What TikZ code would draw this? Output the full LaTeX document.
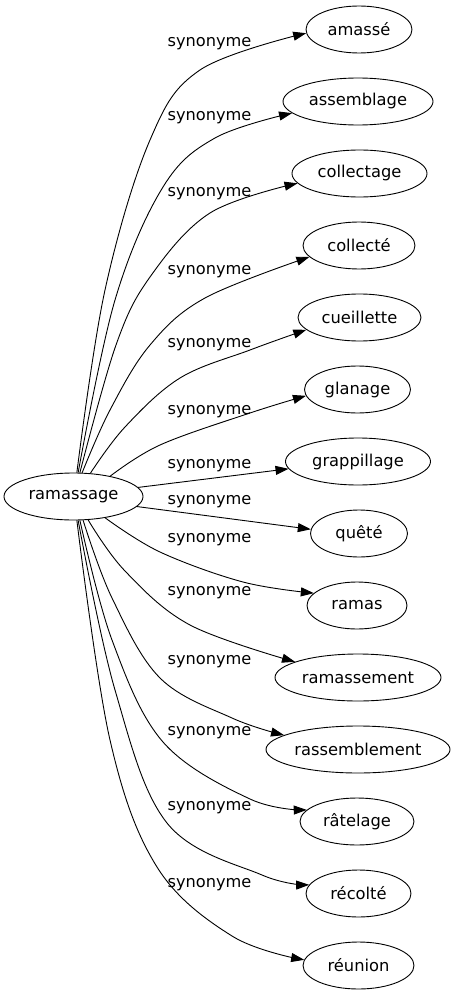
\documentclass[tikz,border=0pt]{standalone}
\usepackage{fontspec}
\setmainfont{DejaVu Sans}
\usetikzlibrary{shapes.geometric,arrows.meta}
\begin{document}
\begin{tikzpicture}[x=1pt,y=-1pt,
  word/.style={ellipse,draw,line width=0.9pt,minimum height=47pt,inner sep=0pt,font=\fontsize{16.3}{19}\selectfont},
  lab/.style={inner sep=0pt,font=\fontsize{16.2}{19}\selectfont},
  synarrow/.style={line width=0.9pt,-{Triangle[length=13pt,width=9pt]}},
  curvy/.style={smooth,tension=0.6}]
\useasboundingbox (0,0) rectangle (456,995);

\node[word,minimum width=139pt] (r) at (73.5,496.5) {ramassage};
\node[word,minimum width=106pt] (n1) at (359,29.5) {amassé};
\node[word,minimum width=150pt] (n2) at (358,101.5) {assemblage};
\node[word,minimum width=135pt] (n3) at (359.5,173.5) {collectage};
\node[word,minimum width=112pt] (n4) at (359,245.5) {collecté};
\node[word,minimum width=123pt] (n5) at (359.5,317.5) {cueillette};
\node[word,minimum width=106pt] (n6) at (357.5,389.5) {glanage};
\node[word,minimum width=145pt] (n7) at (358,461.5) {grappillage};
\node[word,minimum width=97pt] (n8) at (359,533.5) {quêté};
\node[word,minimum width=100pt] (n9) at (357,605.5) {ramas};
\node[word,minimum width=166pt] (n10) at (358,677.5) {ramassement};
\node[word,minimum width=184pt] (n11) at (358,749.5) {rassemblement};
\node[word,minimum width=114pt] (n12) at (357,821.5) {râtelage};
\node[word,minimum width=105pt] (n13) at (358.5,893.5) {récolté};
\node[word,minimum width=111pt] (n14) at (358.5,965.5) {réunion};

\node[lab] (l1) at (209.5,44) {synonyme};
\node[lab] (l2) at (209.5,118) {synonyme};
\node[lab] (l3) at (209.5,194) {synonyme};
\node[lab] (l4) at (209.5,272) {synonyme};
\node[lab] (l5) at (209.5,345) {synonyme};
\node[lab] (l6) at (209.5,412) {synonyme};
\node[lab] (l7) at (209.5,466) {synonyme};
\node[lab] (l8) at (209.5,502) {synonyme};
\node[lab] (l9) at (209.5,540) {synonyme};
\node[lab] (l10) at (209.5,593) {synonyme};
\node[lab] (l11) at (209.5,662) {synonyme};
\node[lab] (l12) at (209.5,733) {synonyme};
\node[lab] (l13) at (209.5,808) {synonyme};
\node[lab] (l14) at (209.5,885) {synonyme};

\draw[synarrow] plot[curvy] coordinates {(r.82) (105,290) (150,140) (200,70) (n1.184)};
\draw[synarrow] plot[curvy] coordinates {(r.79) (115,300) (163,187) (215,138) (n2.190)};
\draw[synarrow] plot[curvy] coordinates {(r.75) (116,345) (150,277) (210,213) (n3.189)};
\draw[synarrow] plot[curvy] coordinates {(r.70) (110,410) (150,345) (205,298) (n4.193)};
\draw[synarrow] plot[curvy] coordinates {(r.54) (125,427) (180,378) (250,350) (n5.193)};
\draw[synarrow] plot[curvy] coordinates {(r.29) (160,445) (250,413) (n6.187)};
\draw[synarrow] (r.8) -- (n7.186);
\draw[synarrow] (r.-9) -- (n8.175);
\draw[synarrow] plot[curvy] coordinates {(r.-34) (160,552) (243,582) (n9.164)};
\draw[synarrow] plot[curvy] coordinates {(r.-58) (125,571) (190,625) (n10.166)};
\draw[synarrow] plot[curvy] coordinates {(r.-68) (112,598) (160,678) (232,718) (n11.169)};
\draw[synarrow] plot[curvy] coordinates {(r.-75) (112,640) (163,742) (250,799) (n12.167)};
\draw[synarrow] plot[curvy] coordinates {(r.-79) (115,690) (167,823) (262,875) (n13.170)};
\draw[synarrow] plot[curvy] coordinates {(r.-82) (110,740) (157,867) (232,936) (n14.174)};
\end{tikzpicture}
\end{document}
